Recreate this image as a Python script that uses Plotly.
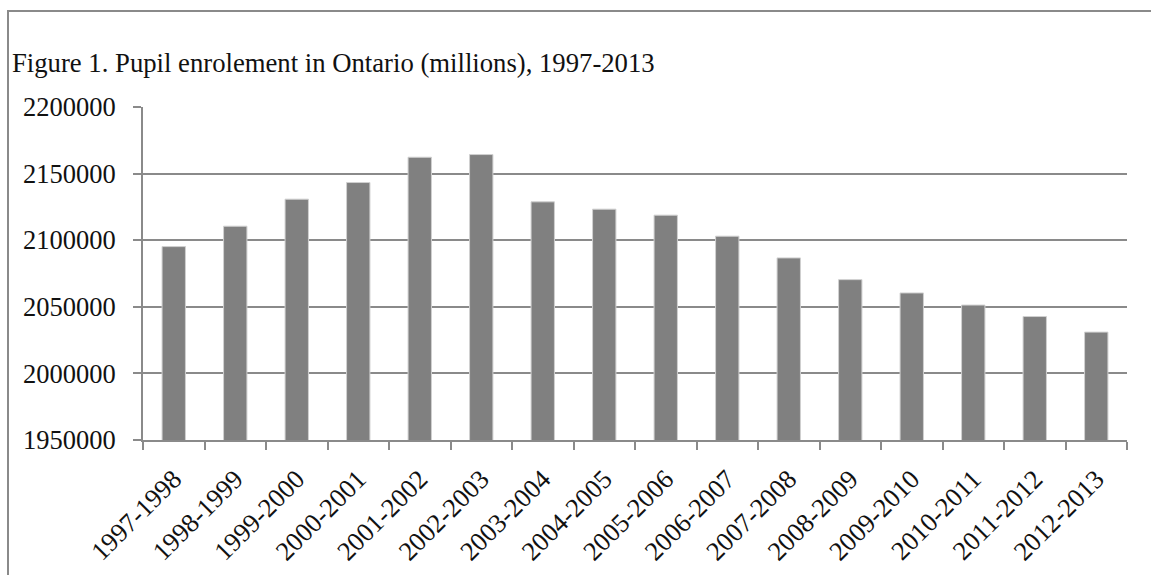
import plotly.graph_objects as go

years = ["1997-1998", "1998-1999", "1999-2000", "2000-2001", "2001-2002", "2002-2003",
         "2003-2004", "2004-2005", "2005-2006", "2006-2007", "2007-2008", "2008-2009",
         "2009-2010", "2010-2011", "2011-2012", "2012-2013"]
enrolment = [2095200, 2110500, 2130800, 2143300, 2162300, 2164300,
             2128800, 2123300, 2118800, 2103000, 2086700, 2070400,
             2060400, 2051300, 2042700, 2031000]
y_ticks = [1950000, 2000000, 2050000, 2100000, 2150000, 2200000]

W, H = 1151, 575
L, R, T, B = 143, 24, 107, 135
pw, ph = W - L - R, H - T - B

def px_x(x):
    return (x - L) / pw

def px_y(y):
    return (H - B - y) / ph

FONT = "Liberation Serif, Times New Roman, serif"
GRAY = "#8a8a8a"

fig = go.Figure(go.Bar(
    x=years, y=enrolment,
    marker=dict(color="#808080", line=dict(color="#d0d0d0", width=1)),
    width=0.38,
))

fig.update_layout(
    width=W, height=H,
    margin=dict(l=L, r=R, t=T, b=B),
    paper_bgcolor="white", plot_bgcolor="white",
    font=dict(family=FONT, color="#111111"),
    showlegend=False,
    title=dict(
        text="Figure 1. Pupil enrolement in Ontario (millions), 1997-2013",
        x=12 / W, xanchor="left", xref="container",
        y=1 - 63 / H, yanchor="middle", yref="container",
        font=dict(family=FONT, size=26.7, color="#111111"),
    ),
    xaxis=dict(
        type="category",
        automargin=False,
        tickson="boundaries",
        ticks="outside", ticklen=8, tickwidth=2, tickcolor=GRAY,
        showline=True, linecolor=GRAY, linewidth=2,
        showgrid=False,
        tickangle=-45,
        ticklabelstandoff=11,
        tickfont=dict(family=FONT, size=26.5, color="#111111"),
    ),
    yaxis=dict(
        automargin=False,
        range=[1950000, 2200000],
        tickvals=y_ticks,
        ticktext=[str(v) for v in y_ticks],
        ticks="outside", ticklen=8, tickwidth=2, tickcolor=GRAY,
        showline=True, linecolor=GRAY, linewidth=2,
        showgrid=True, gridcolor=GRAY, gridwidth=2,
        zeroline=False,
        ticklabelstandoff=12,
        tickfont=dict(family=FONT, size=26.5, color="#111111"),
    ),
    shapes=[dict(
        type="rect", xref="paper", yref="paper",
        x0=px_x(8), x1=px_x(W + 20), y0=px_y(H + 20), y1=px_y(11),
        line=dict(color=GRAY, width=2), fillcolor="rgba(0,0,0,0)", layer="below",
    )],
)

fig.write_html("out.html")
